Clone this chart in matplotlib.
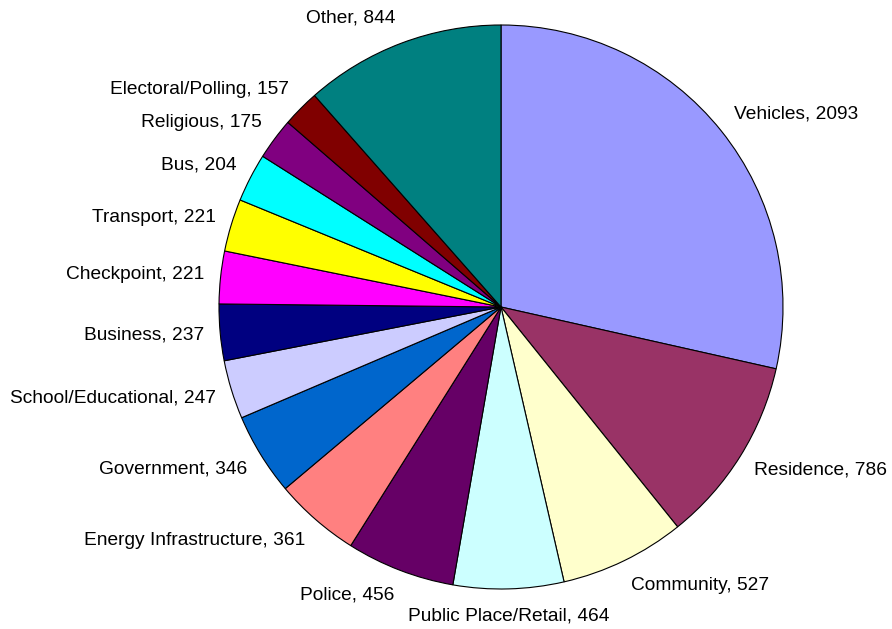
import numpy as np
import matplotlib.pyplot as plt

categories = ['Vehicles', 'Residence', 'Community', 'Public Place/Retail', 'Police',
              'Energy Infrastructure', 'Government', 'School/Educational', 'Business',
              'Checkpoint', 'Transport', 'Bus', 'Religious', 'Electoral/Polling', 'Other']
counts = [2093, 786, 527, 464, 456, 361, 346, 247, 237, 221, 221, 204, 175, 157, 844]
colors = ['#9999FF', '#993366', '#FFFFCC', '#CCFFFF', '#660066',
          '#FF8080', '#0066CC', '#CCCCFF', '#000080', '#FF00FF',
          '#FFFF00', '#00FFFF', '#800080', '#800000', '#008080']

plt.rcParams['font.family'] = ['Liberation Sans', 'DejaVu Sans']

fig = plt.figure(figsize=(8.92, 6.29), dpi=100)
ax = fig.add_axes([0, 0, 1, 1])

cx, cy = 501, 322
radius = 282

wedges, _ = ax.pie(counts, colors=colors, startangle=90, counterclock=False,
                   center=(cx, cy), radius=radius, frame=False,
                   wedgeprops=dict(edgecolor='black', linewidth=0.8))

# labels sit on a slightly flattened ring round the pie, aligned away from it
rx, ry = 298, 309
for w, name, n in zip(wedges, categories, counts):
    theta = np.deg2rad((w.theta1 + w.theta2) / 2)
    c, s = np.cos(theta), np.sin(theta)
    if abs(c) < 0.1:
        ha = 'center'
    elif c > 0:
        ha = 'left'
    else:
        ha = 'right'
    ax.text(cx + rx * c, cy + ry * s, f"{name}, {n}", ha=ha, va='center',
            fontsize=13.8, color='black')

ax.set_xlim(0, 892)
ax.set_ylim(0, 629)
ax.set_aspect('equal')
ax.axis('off')

fig.savefig('out.png', dpi=100, facecolor='white')
